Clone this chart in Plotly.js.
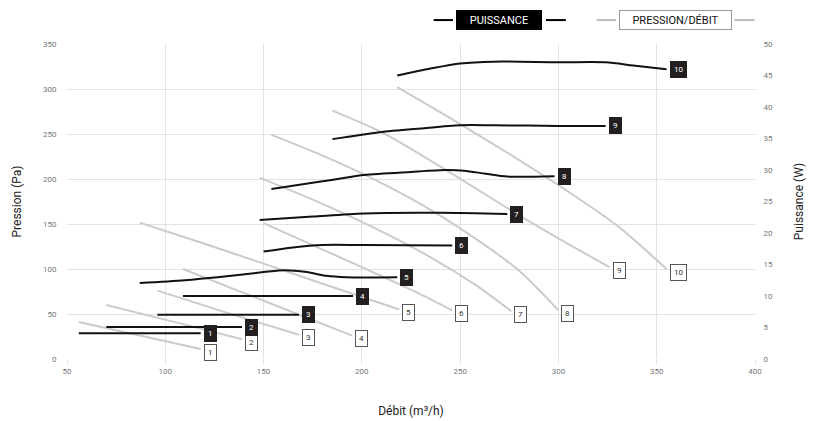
<!DOCTYPE html>
<html><head><meta charset="utf-8">
<script src="https://cdn.plot.ly/plotly-3.0.1.min.js"></script>
<style>html,body{margin:0;padding:0;background:#fff}#chart{width:813px;height:421px}</style>
</head><body><div id="chart"></div>
<script>
// Curve numbers
const curveNames = ['1','2','3','4','5','6','7','8','9','10'];

// PRESSION/DÉBIT curves : débit (m³/h) and pression (Pa)
const pdX1 = [56, 87, 118],                     pdY1 = [41, 26, 11];
const pdX2 = [70, 105, 139],                    pdY2 = [60, 41, 22];
const pdX3 = [96, 132, 168],                    pdY3 = [76, 51, 27];
const pdX4 = [109, 152, 195],                   pdY4 = [100, 63, 26];
const pdX5 = [87, 120, 150, 185, 219],          pdY5 = [151.5, 128, 106, 80, 55];
const pdX6 = [150, 175, 200, 225, 246],         pdY6 = [151, 126.5, 102, 77, 54];
const pdX7 = [148, 175, 205, 235, 258, 276],    pdY7 = [201.5, 177, 147, 113, 82, 53];
const pdX8 = [154, 180, 205, 230, 255, 280, 300], pdY8 = [249, 226, 201, 172, 138, 98, 54];
const pdX9 = [185, 210, 242, 279, 300, 326],    pdY9 = [276, 252, 211, 161, 134, 102];
const pdX10 = [218, 250, 280, 305, 330, 355],   pdY10 = [302, 261, 221, 186, 148, 100];

// PUISSANCE curves : débit (m³/h) and puissance (W)
const pwX1 = [56, 118],                  pwY1 = [4.07, 4.07];
const pwX2 = [70, 139],                  pwY2 = [5.08, 5.08];
const pwX3 = [96, 168],                  pwY3 = [7.04, 7.04];
const pwX4 = [109, 195.5],               pwY4 = [10, 10];
const pwX5 = [87, 110, 130, 150, 161, 172, 182, 192, 218], pwY5 = [12.06, 12.5, 13.1, 13.8, 14.1, 13.8, 13.2, 12.98, 12.98];
const pwX6 = [150, 165, 180, 200, 246],  pwY6 = [17.05, 17.7, 18.1, 18.1, 18.0];
const pwX7 = [148, 175, 201, 240, 274],  pwY7 = [22.05, 22.6, 23.1, 23.2, 23.0];
const pwX8 = [154, 180, 201, 225, 243, 252, 263, 274, 298], pwY8 = [27.0, 28.2, 29.2, 29.7, 30.0, 29.9, 29.4, 28.95, 29.0];
const pwX9 = [185, 209, 230, 250, 267, 300, 324], pwY9 = [34.9, 36.0, 36.6, 37.1, 37.1, 37.0, 37.0];
const pwX10 = [218, 235, 250, 267, 300, 324, 338, 355], pwY10 = [45.0, 46.1, 46.9, 47.2, 47.1, 47.1, 46.6, 46.0];

// Axis ticks
const debitTicks = [50, 100, 150, 200, 250, 300, 350, 400];
const pressionTicks = [0, 50, 100, 150, 200, 250, 300, 350];
const puissanceTicks = [0, 5, 10, 15, 20, 25, 30, 35, 40, 45, 50];

const pdX = [pdX1,pdX2,pdX3,pdX4,pdX5,pdX6,pdX7,pdX8,pdX9,pdX10];
const pdY = [pdY1,pdY2,pdY3,pdY4,pdY5,pdY6,pdY7,pdY8,pdY9,pdY10];
const pwX = [pwX1,pwX2,pwX3,pwX4,pwX5,pwX6,pwX7,pwX8,pwX9,pwX10];
const pwY = [pwY1,pwY2,pwY3,pwY4,pwY5,pwY6,pwY7,pwY8,pwY9,pwY10];

const FONT = 'Roboto, "DejaVu Sans", sans-serif';
const GRAY = '#cbcbcb';
const BLACK = '#111111';

const traces = [];
const annotations = [];
pdX.forEach((xs, i) => {
  traces.push({x: xs, y: pdY[i], type: 'scatter', mode: 'lines', name: 'Pression/Débit ' + curveNames[i],
    line: {color: GRAY, width: 2, shape: 'spline', smoothing: 0.8}, showlegend: false, hoverinfo: 'x+y'});
  annotations.push({x: xs[xs.length-1], y: pdY[i][pdY[i].length-1], xref: 'x', yref: 'y',
    text: curveNames[i], showarrow: false, xanchor: 'left', yanchor: 'middle', xshift: 3, yshift: -3,
    font: {family: FONT, size: 8, color: '#333'}, bgcolor: '#ffffff', bordercolor: '#555', borderwidth: 1, borderpad: 3});
});
pwX.forEach((xs, i) => {
  traces.push({x: xs, y: pwY[i], type: 'scatter', mode: 'lines', yaxis: 'y2', name: 'Puissance ' + curveNames[i],
    line: {color: BLACK, width: 2, shape: 'spline', smoothing: 0.8}, showlegend: false, hoverinfo: 'x+y'});
  annotations.push({x: xs[xs.length-1], y: pwY[i][pwY[i].length-1], xref: 'x', yref: 'y2',
    text: curveNames[i], showarrow: false, xanchor: 'left', yanchor: 'middle', xshift: 3,
    font: {family: FONT, size: 8, color: '#fff'}, bgcolor: '#231f20', bordercolor: '#231f20', borderwidth: 1, borderpad: 3});
});

// Legend
annotations.push({x: 0.6275, y: 1.076, xref: 'paper', yref: 'paper', text: 'PUISSANCE', showarrow: false,
  xanchor: 'center', yanchor: 'middle', width: 84, height: 18,
  font: {family: FONT, size: 11, color: '#fff'}, bgcolor: '#000', bordercolor: '#000', borderwidth: 1, borderpad: 0});
annotations.push({x: 0.884, y: 1.076, xref: 'paper', yref: 'paper', text: 'PRESSION/DÉBIT', showarrow: false,
  xanchor: 'center', yanchor: 'middle', width: 111, height: 18,
  font: {family: FONT, size: 11, color: '#111'}, bgcolor: '#fff', bordercolor: '#999', borderwidth: 1, borderpad: 0});

const shapes = [
  {type: 'line', xref: 'paper', yref: 'paper', x0: 0.533, x1: 0.561, y0: 1.076, y1: 1.076, line: {color: '#000', width: 2}},
  {type: 'line', xref: 'paper', yref: 'paper', x0: 0.696, x1: 0.725, y0: 1.076, y1: 1.076, line: {color: '#000', width: 2}},
  {type: 'line', xref: 'paper', yref: 'paper', x0: 0.770, x1: 0.798, y0: 1.076, y1: 1.076, line: {color: '#bbb', width: 2}},
  {type: 'line', xref: 'paper', yref: 'paper', x0: 0.970, x1: 0.9995, y0: 1.076, y1: 1.076, line: {color: '#bbb', width: 2}}
];

const tickFont = {family: FONT, size: 8, color: '#777'};
const layout = {
  width: 813, height: 421,
  margin: {l: 67, r: 58, t: 44, b: 62, pad: 0},
  paper_bgcolor: '#fff', plot_bgcolor: '#fff',
  showlegend: false,
  xaxis: {range: [50, 400], tickvals: debitTicks, ticktext: debitTicks.map(String),
    showgrid: true, gridcolor: '#e2e2e2', gridwidth: 1, zeroline: false, showline: false,
    ticks: 'outside', ticklen: 4, tickcolor: '#e2e2e2', tickfont: tickFont,
    title: {text: 'Débit (m³/h)', font: {family: FONT, size: 12, color: '#222'}, standoff: 32}},
  yaxis: {range: [0, 350], tickvals: pressionTicks, ticktext: pressionTicks.map(String),
    showgrid: true, gridcolor: '#e2e2e2', gridwidth: 1, zeroline: false, showline: false,
    ticks: 'outside', ticklen: 8, tickcolor: 'rgba(0,0,0,0)', tickfont: tickFont,
    title: {text: 'Pression (Pa)', font: {family: FONT, size: 12, color: '#222'}, standoff: 18}},
  yaxis2: {range: [0, 50], overlaying: 'y', side: 'right', tickvals: puissanceTicks, ticktext: puissanceTicks.map(String),
    showgrid: false, zeroline: false, showline: false,
    ticks: 'outside', ticklen: 6, tickcolor: 'rgba(0,0,0,0)', tickfont: tickFont,
    title: {text: 'Puissance (W)', font: {family: FONT, size: 12, color: '#222'}, standoff: 22}},
  annotations: annotations,
  shapes: shapes
};

Plotly.newPlot('chart', traces, layout, {displayModeBar: false, staticPlot: true});
</script>
</body></html>
